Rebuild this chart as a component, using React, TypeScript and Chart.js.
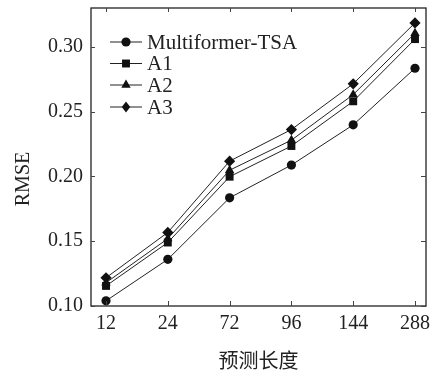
import React, { useEffect, useRef } from "react";
import { Chart, registerables } from "chart.js";

Chart.register(...registerables);

const categories = ["12", "24", "72", "96", "144", "288"];
const seriesNames = ["Multiformer-TSA", "A1", "A2", "A3"];
const multiformer = [0.104, 0.136, 0.1835, 0.2088, 0.2398, 0.2835];
const a1 = [0.1155, 0.149, 0.1998, 0.2235, 0.258, 0.306];
const a2 = [0.118, 0.152, 0.2048, 0.228, 0.2632, 0.3105];
const a3 = [0.1218, 0.1568, 0.2118, 0.2362, 0.2715, 0.3185];
const yTicks = [0.1, 0.15, 0.2, 0.25, 0.3];
const xTitle = "预测长度";
const yTitle = "RMSE";

const pointStyles = ["circle", "rect", "triangle", "rectRot"];
const pointRadii = [4.6, 5.6, 5.4, 5.6];
const FONT = "'Liberation Serif', 'Times New Roman', serif";

export default function App() {
  const ref = useRef<HTMLCanvasElement | null>(null);

  useEffect(() => {
    document.body.style.margin = "0";
    const canvas = ref.current;
    if (!canvas) return;
    const all = [multiformer, a1, a2, a3];

    function drawMarker(ctx: CanvasRenderingContext2D, style: string, x: number, y: number, r: number) {
      ctx.beginPath();
      if (style === "circle") {
        ctx.arc(x, y, r, 0, Math.PI * 2);
      } else if (style === "rect") {
        const s = Math.SQRT1_2 * r;
        ctx.rect(x - s, y - s, 2 * s, 2 * s);
      } else if (style === "triangle") {
        ctx.moveTo(x, y - r);
        ctx.lineTo(x + r * 0.866, y + r * 0.5);
        ctx.lineTo(x - r * 0.866, y + r * 0.5);
        ctx.closePath();
      } else {
        ctx.moveTo(x, y - r);
        ctx.lineTo(x + r * 0.75, y);
        ctx.lineTo(x, y + r);
        ctx.lineTo(x - r * 0.75, y);
        ctx.closePath();
      }
      ctx.fill();
    }

    const framePlugin = {
      id: "frame",
      afterDraw(chart: any) {
        const { ctx, chartArea } = chart;
        const { left, right, top, bottom } = chartArea;
        const xs = chart.scales.x;
        const ys = chart.scales.y;
        ctx.save();
        ctx.strokeStyle = "#222";
        ctx.lineWidth = 1.3;
        ctx.strokeRect(left, top, right - left, bottom - top);
        ctx.lineWidth = 1;
        ctx.strokeStyle = "#444";
        ctx.beginPath();
        for (const v of yTicks) {
          const y = Math.round(ys.getPixelForValue(v)) + 0.5;
          ctx.moveTo(left, y);
          ctx.lineTo(left + 4, y);
          ctx.moveTo(right, y);
          ctx.lineTo(right - 5, y);
        }
        categories.forEach((_, i) => {
          const x = Math.round(xs.getPixelForValue(i)) + 0.5;
          ctx.moveTo(x, bottom);
          ctx.lineTo(x, bottom - 5);
          ctx.moveTo(x, top);
          ctx.lineTo(x, top + 4);
        });
        ctx.stroke();

        // titles
        ctx.fillStyle = "#222";
        ctx.font = `20px 'Noto Sans CJK SC', sans-serif`;
        ctx.textAlign = "center";
        ctx.textBaseline = "middle";
        ctx.fillText(xTitle, (left + right) / 2, 360);
        ctx.save();
        ctx.translate(23, 179);
        ctx.rotate(-Math.PI / 2);
        ctx.font = `20px ${FONT}`;
        ctx.fillText(yTitle, 0, 1);
        ctx.restore();

        // legend
        const rowY = [42, 63.5, 85, 107];
        seriesNames.forEach((name, i) => {
          const y = rowY[i];
          ctx.strokeStyle = "#222";
          ctx.lineWidth = 1;
          ctx.beginPath();
          ctx.moveTo(110, y);
          ctx.lineTo(142, y);
          ctx.stroke();
          ctx.fillStyle = "#111";
          drawMarker(ctx, pointStyles[i], 126, y, pointRadii[i]);
          ctx.fillStyle = "#222";
          ctx.font = `21px ${FONT}`;
          ctx.textAlign = "left";
          ctx.textBaseline = "middle";
          ctx.fillText(name, 147, y + 1);
        });
        ctx.restore();
      },
    };

    const chart = new Chart(canvas, {
      type: "line",
      data: {
        datasets: all.map((vals, i) => ({
          label: seriesNames[i],
          data: vals.map((v, j) => ({ x: j, y: v })),
          borderColor: "#222",
          borderWidth: 1,
          backgroundColor: "#111",
          pointBackgroundColor: "#111",
          pointBorderColor: "#111",
          pointBorderWidth: 0,
          pointStyle: pointStyles[i] as any,
          pointRadius: pointRadii[i],
          tension: 0,
          fill: false,
        })),
      },
      plugins: [framePlugin],
      options: {
        animation: false,
        responsive: false,
        maintainAspectRatio: false,
        layout: { padding: { left: 0, right: 8, top: 8, bottom: 0 } },
        plugins: { legend: { display: false }, tooltip: { enabled: false } },
        scales: {
          x: {
            type: "linear",
            min: -0.243,
            max: 5.178,
            grid: { display: false, drawTicks: false },
            border: { display: false },
            afterFit: (s: any) => {
              s.height = 66;
              s.paddingLeft = 0;
              s.paddingRight = 0;
            },
            ticks: {
              stepSize: 1,
              includeBounds: false,
              autoSkip: false,
              maxRotation: 0,
              padding: 6,
              color: "#222",
              font: { family: FONT, size: 20 },
              callback: (v: any) => (Number.isInteger(v) && categories[v] !== undefined ? categories[v] : ""),
            },
          },
          y: {
            type: "linear",
            min: 0.1,
            max: 0.33,
            grid: { display: false, drawTicks: false },
            border: { display: false },
            afterFit: (s: any) => {
              s.width = 91;
              s.paddingTop = 0;
              s.paddingBottom = 0;
            },
            ticks: {
              stepSize: 0.05,
              includeBounds: false,
              padding: 8,
              color: "#222",
              font: { family: FONT, size: 20 },
              callback: (v: any) => Number(v).toFixed(2),
            },
          },
        },
      },
    });
    return () => chart.destroy();
  }, []);

  return (
    <div style={{ width: 434, height: 372 }}>
      <canvas ref={ref} width={434} height={372} style={{ display: "block", width: 434, height: 372 }} />
    </div>
  );
}
